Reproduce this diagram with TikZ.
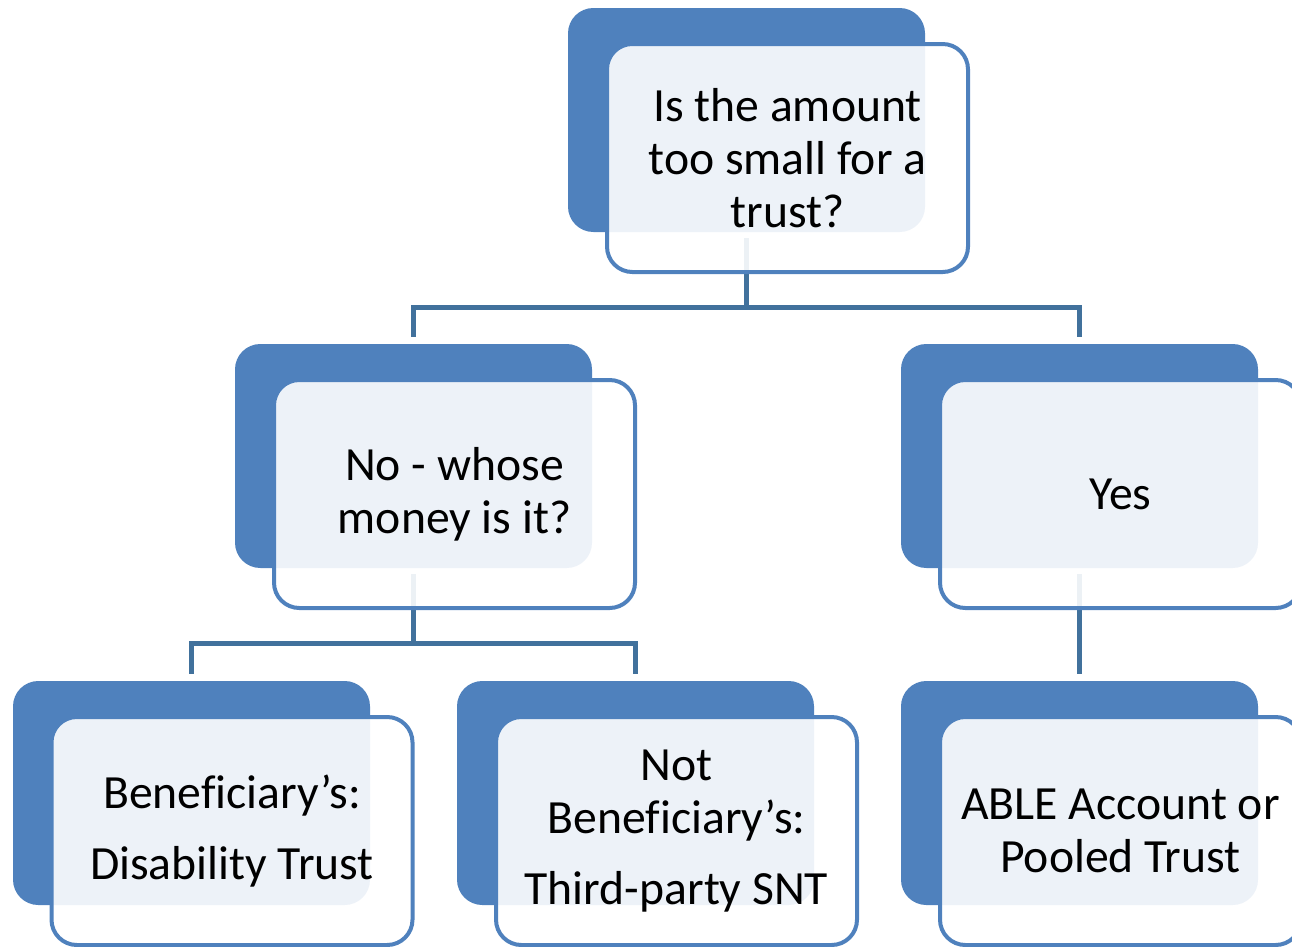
\documentclass[tikz,border=0pt]{standalone}
\usepackage{fontspec}
\setmainfont[Ligatures=NoCommon]{Carlito}
\usetikzlibrary{backgrounds}
\definecolor{boxblue}{HTML}{4F81BD}
\definecolor{lineblue}{HTML}{41719C}
\tikzset{
  backbox/.style={fill=boxblue, draw=none, rounded corners=19pt, minimum width=267.75pt, minimum height=168pt, inner sep=0pt},
  frontbox/.style={fill=white, fill opacity=0.9, draw=boxblue, draw opacity=1, text opacity=1, line width=3pt, rounded corners=19pt, minimum width=270.75pt, minimum height=171pt, inner sep=0pt, align=center, font=\fontsize{35.75pt}{39.75pt}\selectfont, text=black},
  conn/.style={draw=lineblue, line width=3.75pt}
}
\begin{document}
\begin{tikzpicture}[x=0.75pt, y=-0.75pt]
\useasboundingbox (0,0) rectangle (1292,946);
% back boxes
\node[backbox] (b1) at (746.5,120) {};
\node[backbox] (b2) at (413.5,456) {};
\node[backbox] (b3) at (1079.5,456) {};
\node[backbox] (b4) at (191.5,793) {};
\node[backbox] (b5) at (635.5,793) {};
\node[backbox] (b6) at (1079.5,793) {};
% front boxes
\node[frontbox] (f1) at (787.5,158) {Is the amount\\too small for a\\trust?};
\node[frontbox] (f2) at (454.5,494) {No - whose\\money is it?};
\node[frontbox] (f3) at (1120.5,494) {Yes};
\node[frontbox] (f4) at (232,831) {Beneficiary’s:\\[14pt]Disability Trust};
\node[frontbox] (f5) at (676.5,831) {Not\\Beneficiary’s:\\[14pt]Third-party SNT};
\node[frontbox] (f6) at (1120.5,831) {ABLE Account or\\Pooled Trust};
% junctions
\coordinate (j1) at (746.5,307);
\coordinate (j2) at (413.5,643);
\begin{pgfonlayer}{background}
\draw[conn] ([yshift=-4.5pt]b1.south) -- (j1);
\draw[conn] ([yshift=5.25pt]b2.north) |- (j1) -| ([yshift=5.25pt]b3.north);
\draw[conn] ([yshift=-4.5pt]b2.south) -- (j2);
\draw[conn] ([yshift=5.25pt]b4.north) |- (j2) -| ([yshift=5.25pt]b5.north);
\draw[conn] ([yshift=-4.5pt]b3.south) -- ([yshift=5.25pt]b6.north);
\end{pgfonlayer}
\end{tikzpicture}
\end{document}
